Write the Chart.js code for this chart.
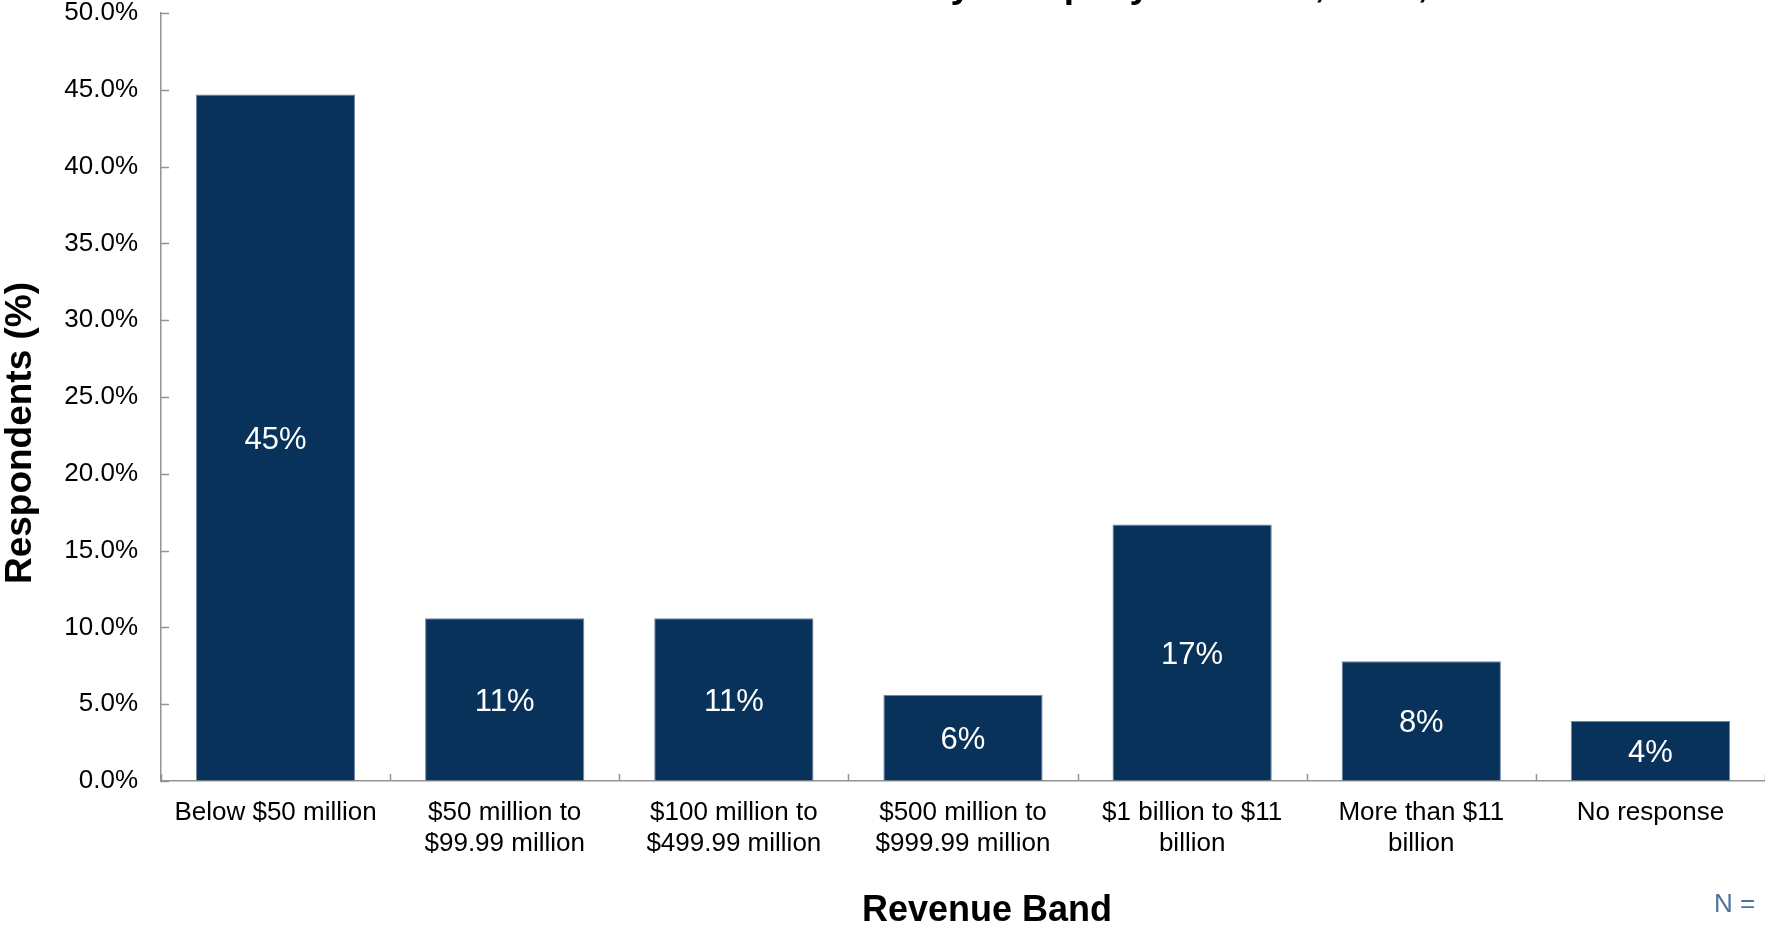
<!DOCTYPE html>
<html>
<head>
<meta charset="utf-8">
<title>Respondents by Revenue Band</title>
<script src="https://cdn.jsdelivr.net/npm/chart.js@4.4.1/dist/chart.umd.min.js"></script>
<style>
  body { margin: 0; background: #ffffff; overflow: hidden; }
  canvas { display: block; }
</style>
</head>
<body>
<canvas id="revenueChart" width="1765" height="926"></canvas>
<script>
// revenue bands (x axis), split over two lines where the label wraps
const bandLabels = [
    ["Below $50 million"],
    ["$50 million to", "$99.99 million"],
    ["$100 million to", "$499.99 million"],
    ["$500 million to", "$999.99 million"],
    ["$1 billion to $11", "billion"],
    ["More than $11", "billion"],
    ["No response"]
];
// share of respondents in each band, percent
const respondentShare = [44.7, 10.6, 10.6, 5.6, 16.7, 7.8, 3.9];

const yMin = 0;
const yMax = 50;
const yStep = 5;

const titleText = "by Company Revenue, 2012,";
const xTitle = "Revenue Band";
const yTitle = "Respondents (%)";
const noteText = "N =";

const fontFamily = "'Liberation Sans', Arial, Helvetica, sans-serif";
const barColor = "#09325a";
const axisGrey = "#939393";

/*
draws what the stock axes can't: inner tick marks, values inside the bars,
the axis titles and the cropped heading / N note
*/
const chartExtras = {
    id: "chartExtras",
    afterDatasetsDraw(chart) {
        const ctx = chart.ctx;
        const area = chart.chartArea;
        const xScale = chart.scales.x;
        const yScale = chart.scales.y;
        ctx.save();

        // tick marks pointing into the plot
        ctx.strokeStyle = axisGrey;
        ctx.lineWidth = 1.5;
        yScale.ticks.forEach((tick) => {
            let py = Math.round(yScale.getPixelForValue(tick.value)) + 0.5;
            ctx.beginPath();
            ctx.moveTo(area.left, py);
            ctx.lineTo(area.left + 8, py);
            ctx.stroke();
        });
        let half = (xScale.getPixelForTick(1) - xScale.getPixelForTick(0)) / 2;
        for (let i = 0; i <= bandLabels.length; i++) {
            let px = Math.round(i < bandLabels.length ? xScale.getPixelForTick(i) - half : xScale.getPixelForTick(i - 1) + half) + 0.5;
            ctx.beginPath();
            ctx.moveTo(px, area.bottom);
            ctx.lineTo(px, area.bottom - 7);
            ctx.stroke();
        }

        // percentage in the middle of each bar
        ctx.fillStyle = "#ffffff";
        ctx.font = "31px " + fontFamily;
        ctx.textAlign = "center";
        ctx.textBaseline = "middle";
        chart.getDatasetMeta(0).data.forEach((bar, i) => {
            ctx.fillText(Math.round(respondentShare[i]) + "%", bar.x, (bar.y + bar.base) / 2 + 3);
        });

        // axis titles
        ctx.fillStyle = "#000000";
        ctx.font = "bold 36px " + fontFamily;
        ctx.fillText(xTitle, 987, 911);
        ctx.save();
        ctx.translate(21, 433);
        ctx.rotate(-Math.PI / 2);
        ctx.font = "bold 37px " + fontFamily;
        ctx.fillText(yTitle, 0, 0);
        ctx.restore();

        // heading sits above the visible area, only its descenders show
        ctx.textAlign = "left";
        ctx.textBaseline = "alphabetic";
        ctx.font = "bold 37px " + fontFamily;
        ctx.fillText(titleText, 928, -3);

        // sample size note
        ctx.fillStyle = "#4d72a0";
        ctx.font = "26px " + fontFamily;
        ctx.fillText(noteText, 1714, 912);

        ctx.restore();
    }
};

const revenueChart = new Chart(document.getElementById("revenueChart"), {
    type: "bar",
    data: {
        labels: bandLabels,
        datasets: [{
            data: respondentShare,
            backgroundColor: barColor,
            borderColor: "#6f86a4",
            borderWidth: 1,
            categoryPercentage: 1,
            barPercentage: 0.695
        }]
    },
    options: {
        responsive: false,
        animation: false,
        layout: {
            padding: { top: 13, left: 0, right: 0, bottom: 0 }
        },
        plugins: {
            legend: { display: false },
            tooltip: { enabled: false }
        },
        scales: {
            x: {
                grid: { drawOnChartArea: false, drawTicks: false },
                border: { display: true, color: axisGrey, width: 1.5 },
                ticks: {
                    color: "#000000",
                    padding: 16,
                    maxRotation: 0,
                    autoSkip: false,
                    font: { family: fontFamily, size: 26, lineHeight: 1.2 }
                },
                afterFit(scale) {
                    scale.height = 145;
                    scale.paddingLeft = 0;
                    scale.paddingRight = 0;
                }
            },
            y: {
                min: yMin,
                max: yMax,
                grid: { drawOnChartArea: false, drawTicks: false },
                border: { display: true, color: axisGrey, width: 1.5 },
                ticks: {
                    stepSize: yStep,
                    color: "#000000",
                    padding: 23,
                    font: { family: fontFamily, size: 26, lineHeight: 1 },
                    callback: (value) => value.toFixed(1) + "%"
                },
                afterFit(scale) {
                    // keep the tick padding from pushing the plot down
                    scale.width = 161;
                    scale.paddingTop = 0;
                    scale.paddingBottom = 0;
                }
            }
        }
    },
    plugins: [chartExtras]
});
</script>
</body>
</html>
